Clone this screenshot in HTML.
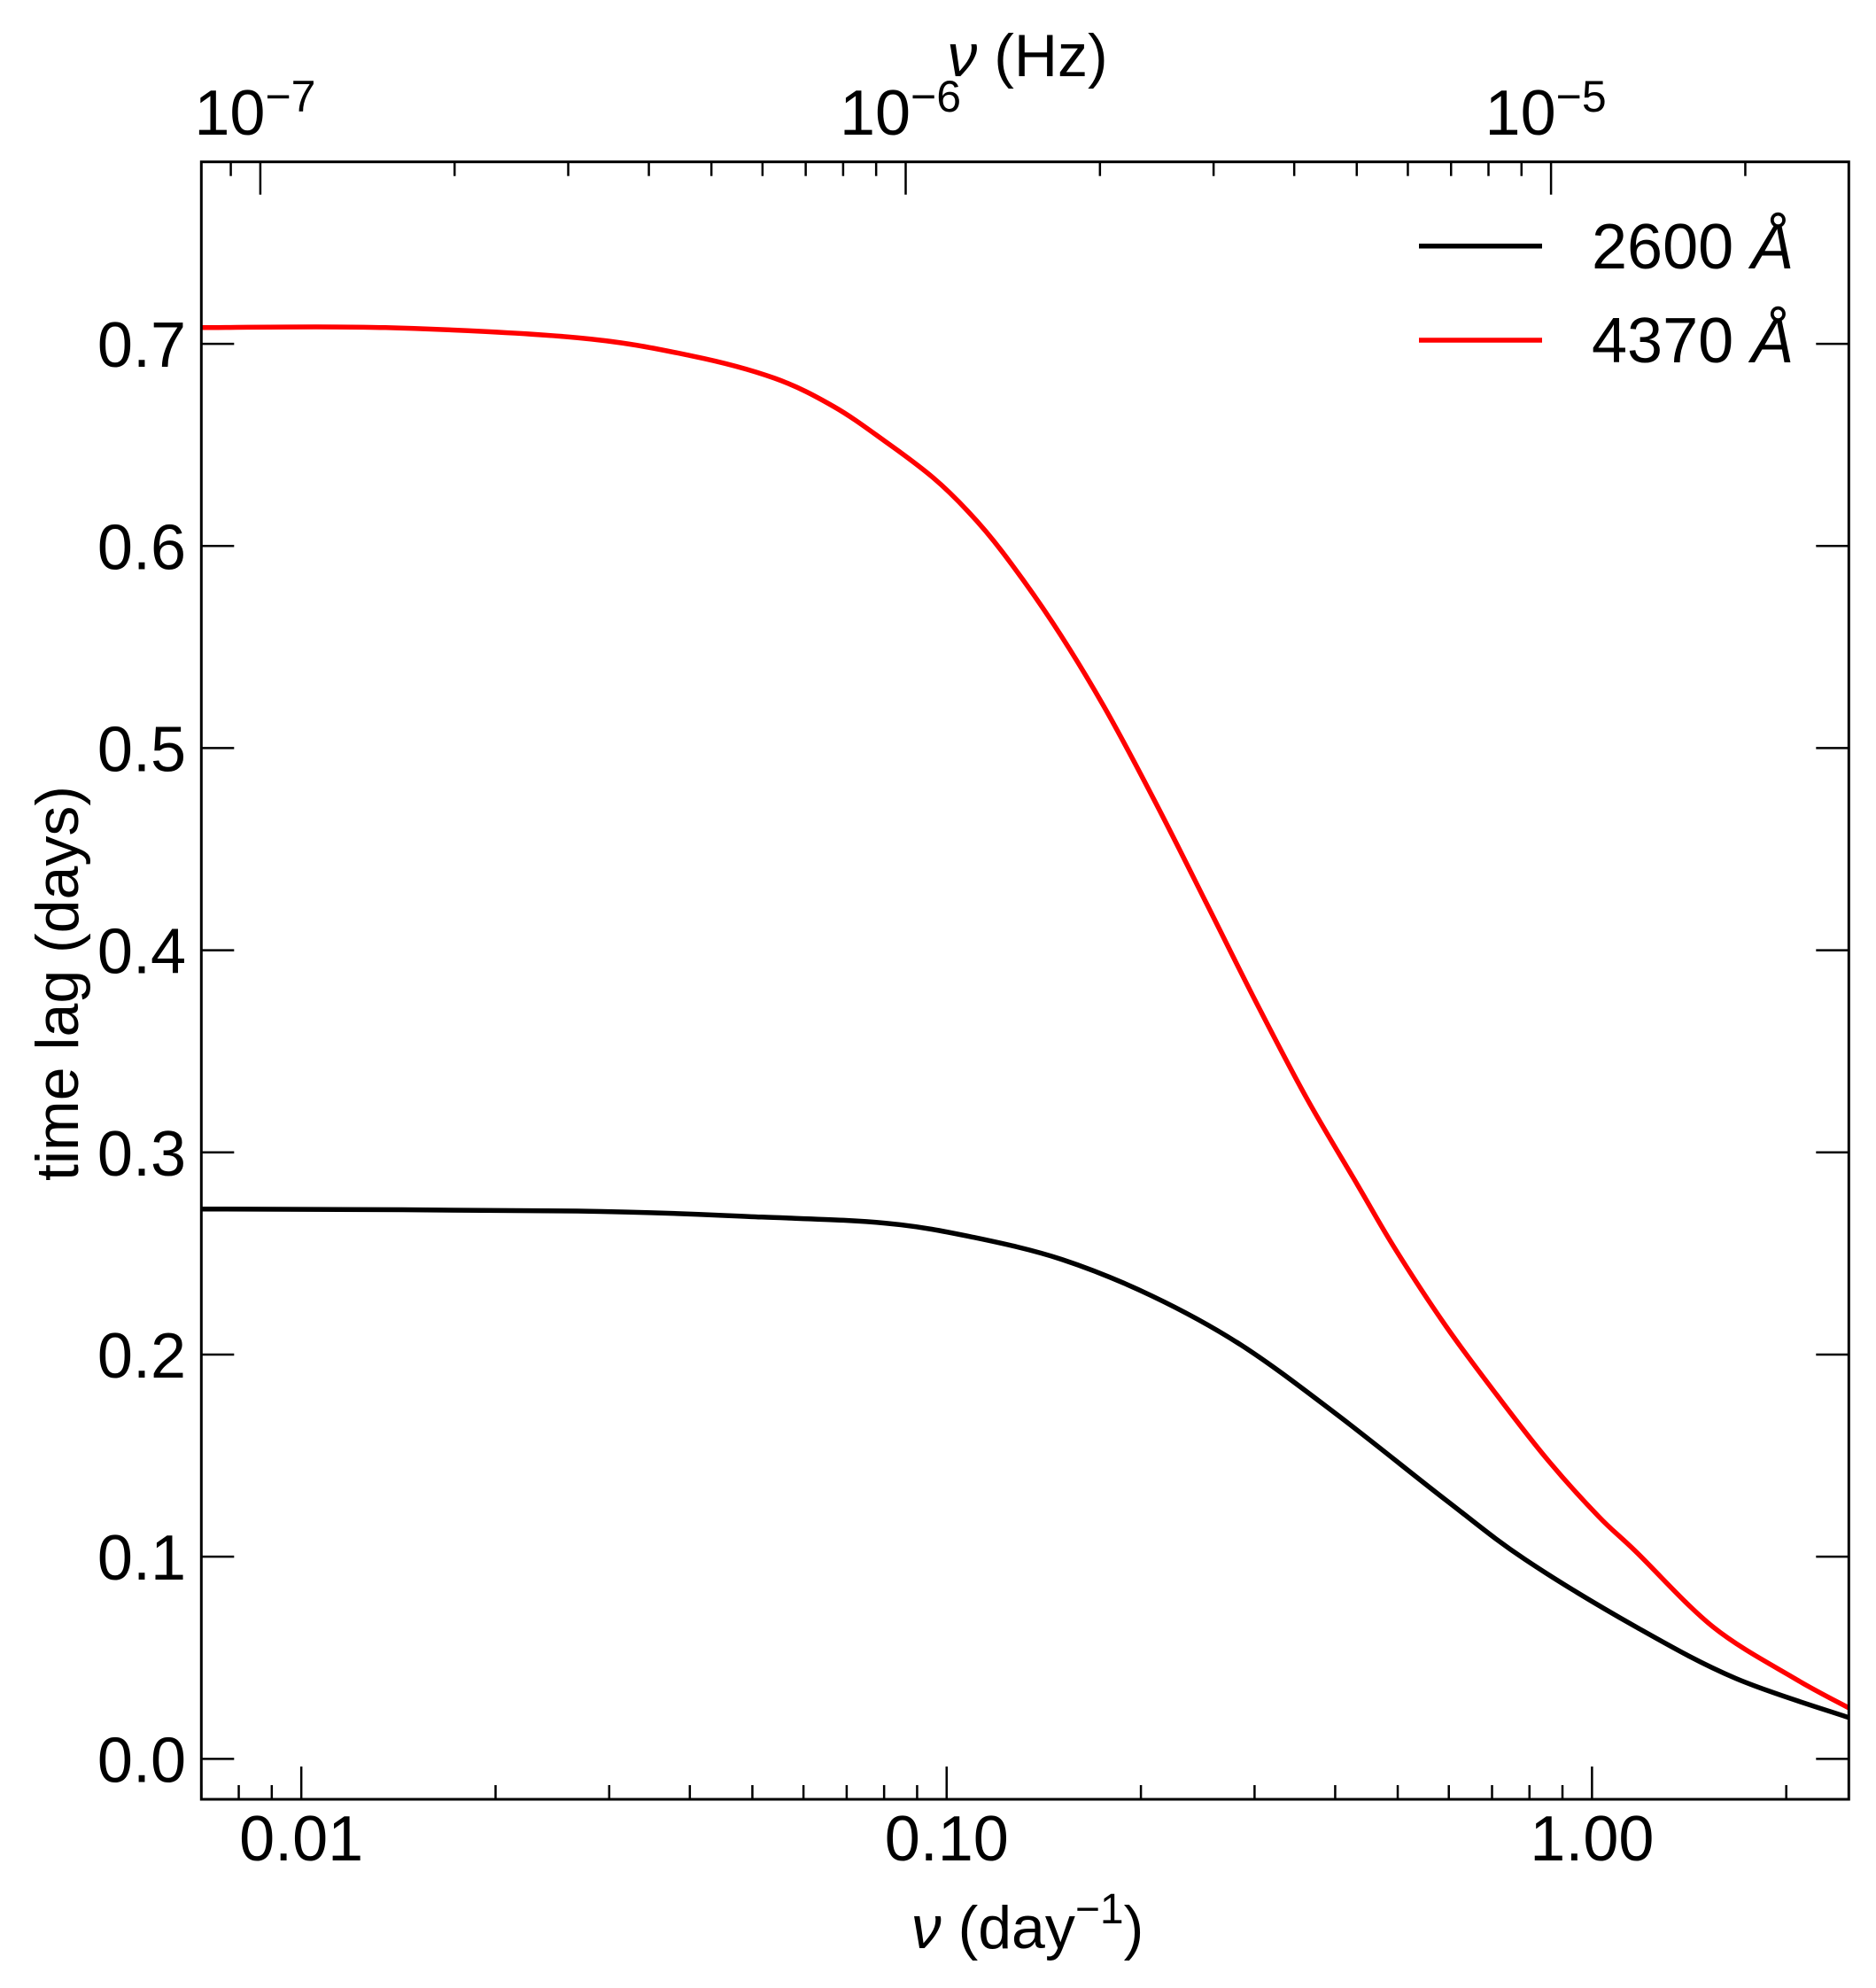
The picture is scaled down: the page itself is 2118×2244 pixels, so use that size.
<!DOCTYPE html>
<html><head><meta charset="utf-8"><style>
html,body{margin:0;padding:0;background:#fff}
svg{display:block}
text{font-family:"Liberation Sans",sans-serif;fill:#000}
</style></head><body>
<svg id="chart" width="2118" height="2244" viewBox="0 0 2118 2244">
<g id="curves"></g>
<g id="axes"></g>
</svg>
<script>
const freqRed = [0.00700,0.0135,0.0268,0.0403,0.0541,0.0668,0.0801,0.0951,0.108,0.122,0.146,0.175,0.210,0.252,0.302,0.361,0.433,0.496,0.594,0.712,0.853,1.023,1.17,1.54,2.06,2.5];
const lagRed = [0.708,0.708,0.703,0.694,0.683,0.669,0.652,0.634,0.617,0.597,0.562,0.521,0.474,0.424,0.374,0.327,0.284,0.252,0.214,0.180,0.148,0.120,0.1025,0.0653,0.0398,0.0252];
const freqBlack = [0.00700,0.0268,0.0517,0.0805,0.110,0.151,0.208,0.285,0.40,0.594,0.788,1.17,1.67,2.5];
const lagBlack = [0.272,0.271,0.268,0.265,0.258,0.247,0.229,0.205,0.171,0.128,0.0986,0.0653,0.0398,0.0204];
const yTicks = [0.0,0.1,0.2,0.3,0.4,0.5,0.6,0.7];
const yTickLabels = ["0.0","0.1","0.2","0.3","0.4","0.5","0.6","0.7"];
const xTicks = [0.01,0.1,1];
const xTickLabels = ["0.01","0.10","1.00"];
const hzTicks = [-7,-6,-5];

const L=227.3,R=2087.3,T=182.7,B=2031;
const XMIN=0.007,XMAX=2.5,YMIN=-0.02,YMAX=0.79;
const NS='http://www.w3.org/2000/svg';
function sx(f){return L+(Math.log10(f)-Math.log10(XMIN))/(Math.log10(XMAX)-Math.log10(XMIN))*(R-L);}
function sy(v){return B-(v-YMIN)/(YMAX-YMIN)*(B-T);}
function mk(tag,attrs,parent){const e=document.createElementNS(NS,tag);for(const k in attrs)e.setAttribute(k,attrs[k]);parent.appendChild(e);return e;}
const axes=document.getElementById('axes'), curves=document.getElementById('curves');

function series(fx,vy,color,name){
  const P=fx.map((f,i)=>[sx(f),sy(vy[i])]);
  let d='M'+P[0][0].toFixed(1)+','+P[0][1].toFixed(1);
  for(let i=0;i<P.length-1;i++){
    const p0=P[Math.max(0,i-1)],p1=P[i],p2=P[i+1],p3=P[Math.min(P.length-1,i+2)];
    const c1=[p1[0]+(p2[0]-p0[0])/6,p1[1]+(p2[1]-p0[1])/6];
    const c2=[p2[0]-(p3[0]-p1[0])/6,p2[1]-(p3[1]-p1[1])/6];
    d+=' C'+c1[0].toFixed(1)+','+c1[1].toFixed(1)+' '+c2[0].toFixed(1)+','+c2[1].toFixed(1)+' '+p2[0].toFixed(1)+','+p2[1].toFixed(1);
  }
  const p=mk('path',{d:d,fill:'none',stroke:color,'stroke-width':5.5,'stroke-linejoin':'round'},curves);
  
  
}
series(freqBlack,lagBlack,'#000','series-2600');
series(freqRed,lagRed,'#ff0000','series-4370');

const fr=mk('rect',{x:L,y:T,width:R-L,height:B-T,fill:'none',stroke:'#000','stroke-width':3},axes);



yTicks.forEach((v,i)=>{
  const y=sy(v);
  mk('line',{x1:L,x2:L+37,y1:y,y2:y,stroke:'#000','stroke-width':2.5},axes);
  mk('line',{x1:R,x2:R-37,y1:y,y2:y,stroke:'#000','stroke-width':2.5},axes);
  const t=mk('text',{x:210,y:y+26,'font-size':72,'text-anchor':'end'},axes);
  t.textContent=yTickLabels[i];
  
  
});
for(let k=-3;k<=0;k++){for(let m=1;m<=9;m++){const f=m*Math.pow(10,k);if(f<XMIN||f>XMAX)continue;const x=sx(f);const len=m===1?37:16;
  mk('line',{x1:x,x2:x,y1:B,y2:B-len,stroke:'#000','stroke-width':2.5},axes);}}
xTicks.forEach((f,i)=>{
  const t=mk('text',{x:sx(f),y:2100,'font-size':72,'text-anchor':'middle'},axes);
  t.textContent=xTickLabels[i];
  
  
});
for(let k=-8;k<=-5;k++){for(let m=1;m<=9;m++){const hz=m*Math.pow(10,k);const f=hz*86400;if(f<XMIN||f>XMAX)continue;const x=sx(f);const len=m===1?37:16;
  mk('line',{x1:x,x2:x,y1:T,y2:T+len,stroke:'#000','stroke-width':2.5},axes);}}
hzTicks.forEach(k=>{
  const x=sx(Math.pow(10,k)*86400);
  const t=mk('text',{x:x-6,y:152,'font-size':72,'text-anchor':'middle'},axes);
  
  
  const a=document.createElementNS(NS,'tspan');a.textContent='10';t.appendChild(a);
  const b=document.createElementNS(NS,'tspan');b.setAttribute('font-size','50');b.setAttribute('dy','-26');b.textContent='\u2212'+(-k);t.appendChild(b);
});
</script>
<svg style="position:absolute;left:0;top:0" width="2118" height="2244">
<text x="1160" y="86" font-size="68" text-anchor="middle"><tspan font-style="italic">ν</tspan> (Hz)</text>
<text x="1160" y="2199" font-size="68" text-anchor="middle"><tspan font-style="italic">ν</tspan> (day<tspan font-size="48" dy="-28">−1</tspan><tspan dy="28">)</tspan></text>
<text transform="translate(88,1110) rotate(-90)" font-size="68" text-anchor="middle">time lag (days)</text>
<g>
<line x1="1602" x2="1741" y1="277.7" y2="277.7" stroke="#000" stroke-width="5.5"/>
<text x="1797" y="303" font-size="72">2600 <tspan font-style="italic">Å</tspan></text>
<line x1="1602" x2="1741" y1="384" y2="384" stroke="#ff0000" stroke-width="5.5"/>
<text x="1797" y="409" font-size="72">4370 <tspan font-style="italic">Å</tspan></text>
</g>
</svg>
</body></html>
